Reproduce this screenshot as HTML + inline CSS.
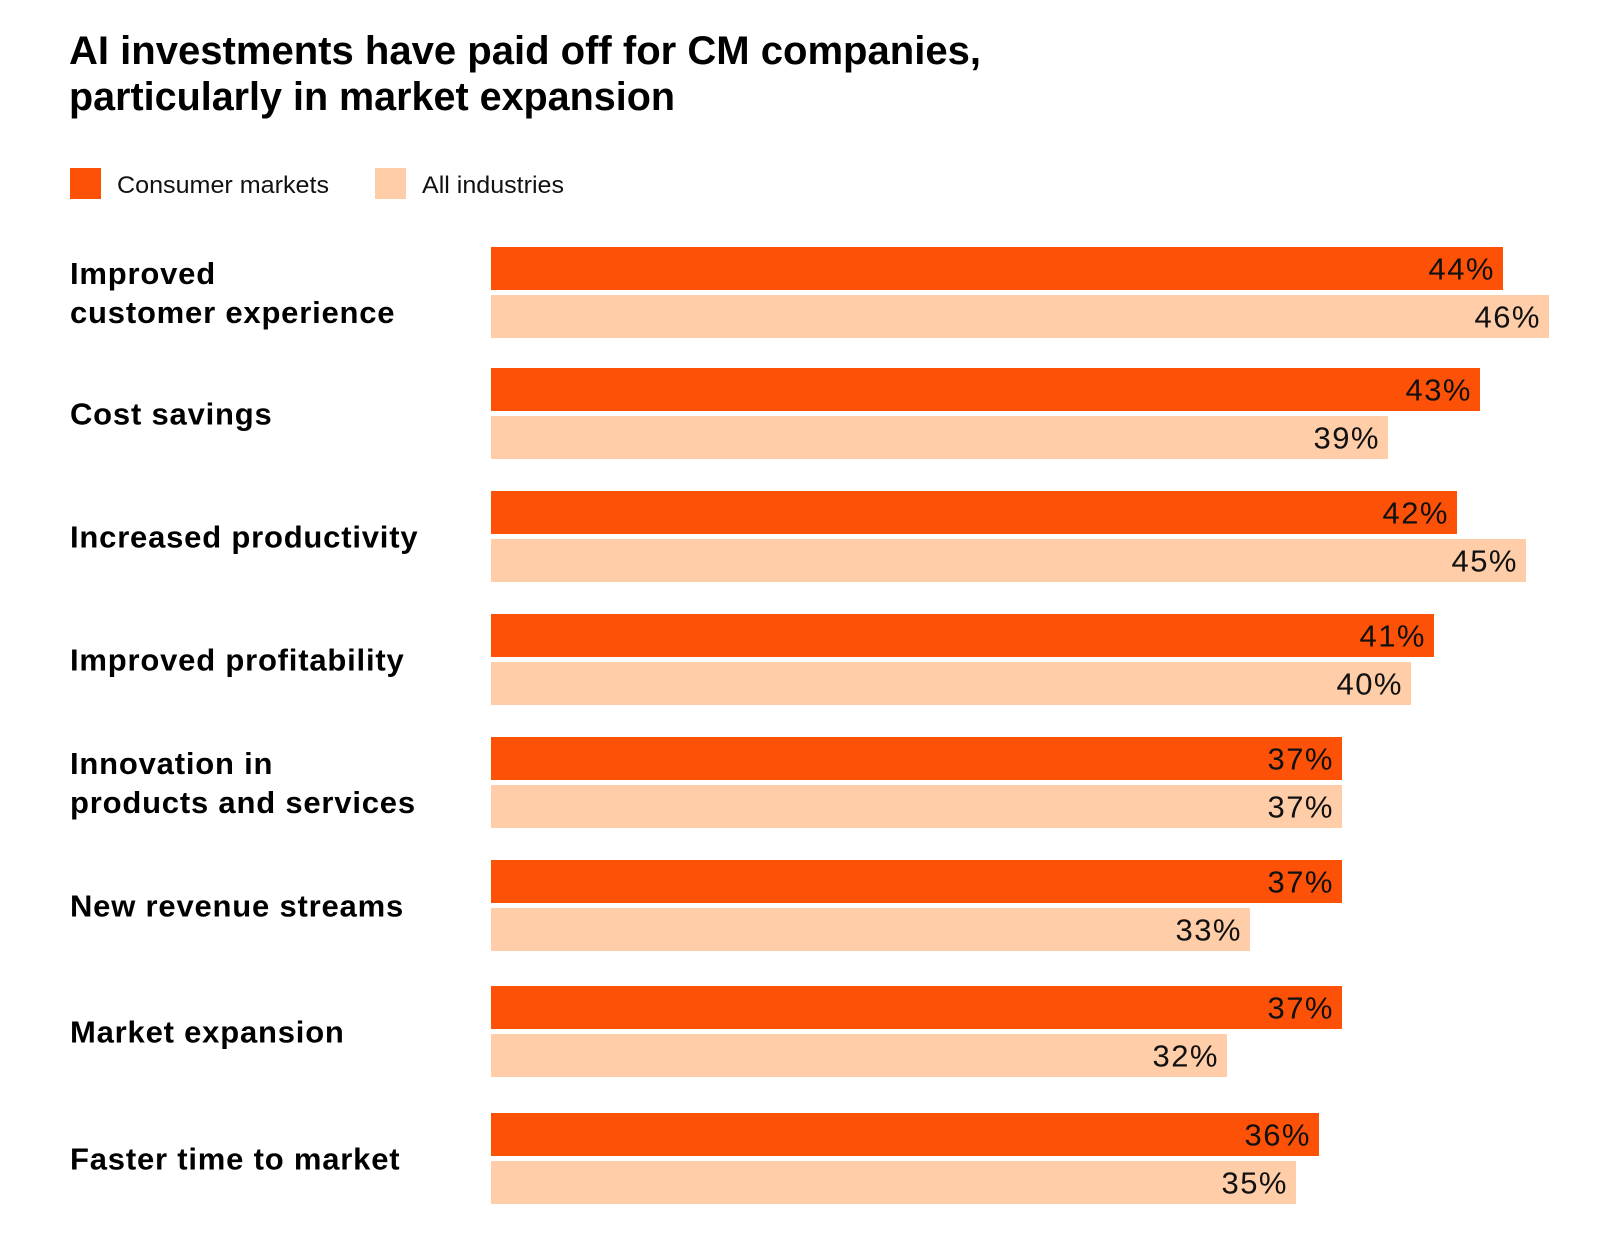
<!DOCTYPE html>
<html><head><meta charset="utf-8"><style>
html,body{margin:0;padding:0;background:#fff;}
svg{display:block;font-family:"Liberation Sans",Arial,sans-serif;}
</style></head><body>
<svg id="chart" width="1600" height="1235" viewBox="0 0 1600 1235">
<text x="69" y="64" font-size="40" font-weight="bold" fill="#000" textLength="912" lengthAdjust="spacingAndGlyphs">AI investments have paid off  for CM companies,</text>
<text x="69" y="110" font-size="40" font-weight="bold" fill="#000" textLength="606" lengthAdjust="spacingAndGlyphs">particularly in market expansion</text>
<g>
<rect x="70" y="168" width="31" height="31" fill="#fd5108"/>
<text x="117" y="193" font-size="24" fill="#111" textLength="212" lengthAdjust="spacingAndGlyphs">Consumer markets</text>
<rect x="375" y="168" width="31" height="31" fill="#ffcda8"/>
<text x="422" y="193" font-size="24" fill="#111" textLength="142" lengthAdjust="spacingAndGlyphs">All industries</text>
</g>
<g id="bars"></g>
</svg>
<script>
const categories = [["Improved","customer experience"],["Cost savings"],["Increased productivity"],["Improved profitability"],["Innovation in","products and services"],["New revenue streams"],["Market expansion"],["Faster time to market"]];
const consumerMarkets = [44,43,42,41,37,37,37,36];
const allIndustries = [46,39,45,40,37,33,32,35];
const rowTops = [247,368,491,614,737,860,986,1113];
const NS="http://www.w3.org/2000/svg";
const x0=491, pxPer=23, barH=43, gap=5;
const xScale=v=>x0+v*pxPer;
const g=document.getElementById('bars');
function mk(tag,attrs){const e=document.createElementNS(NS,tag);for(const k in attrs)e.setAttribute(k,attrs[k]);return e;}
categories.forEach((cat,i)=>{
  const top=rowTops[i];
  const center=top+barH+gap/2;
  const lh=39;
  cat.forEach((line,j)=>{
    const y=center+11+(j-(cat.length-1)/2)*lh;
    const t=mk('text',{x:70,y:y,'font-size':31,'font-weight':'bold',fill:'#000','letter-spacing':'0.8'});
    
    
    t.textContent=line;g.appendChild(t);
  });
  [[consumerMarkets[i],'#fd5108',top,'bar-consumer-markets'],[allIndustries[i],'#ffcda8',top+barH+gap,'bar-all-industries']].forEach(([v,c,y,nm])=>{
    const r=mk('rect',{x:x0,y:y,width:xScale(v)-x0,height:barH,fill:c});
    
    
    g.appendChild(r);
    const t=mk('text',{x:xScale(v)-8,y:y+barH/2+11,'font-size':31,fill:'#111','text-anchor':'end','letter-spacing':'1.5'});
    
    
    t.textContent=v+'%';g.appendChild(t);
  });
});
</script>
</body></html>
